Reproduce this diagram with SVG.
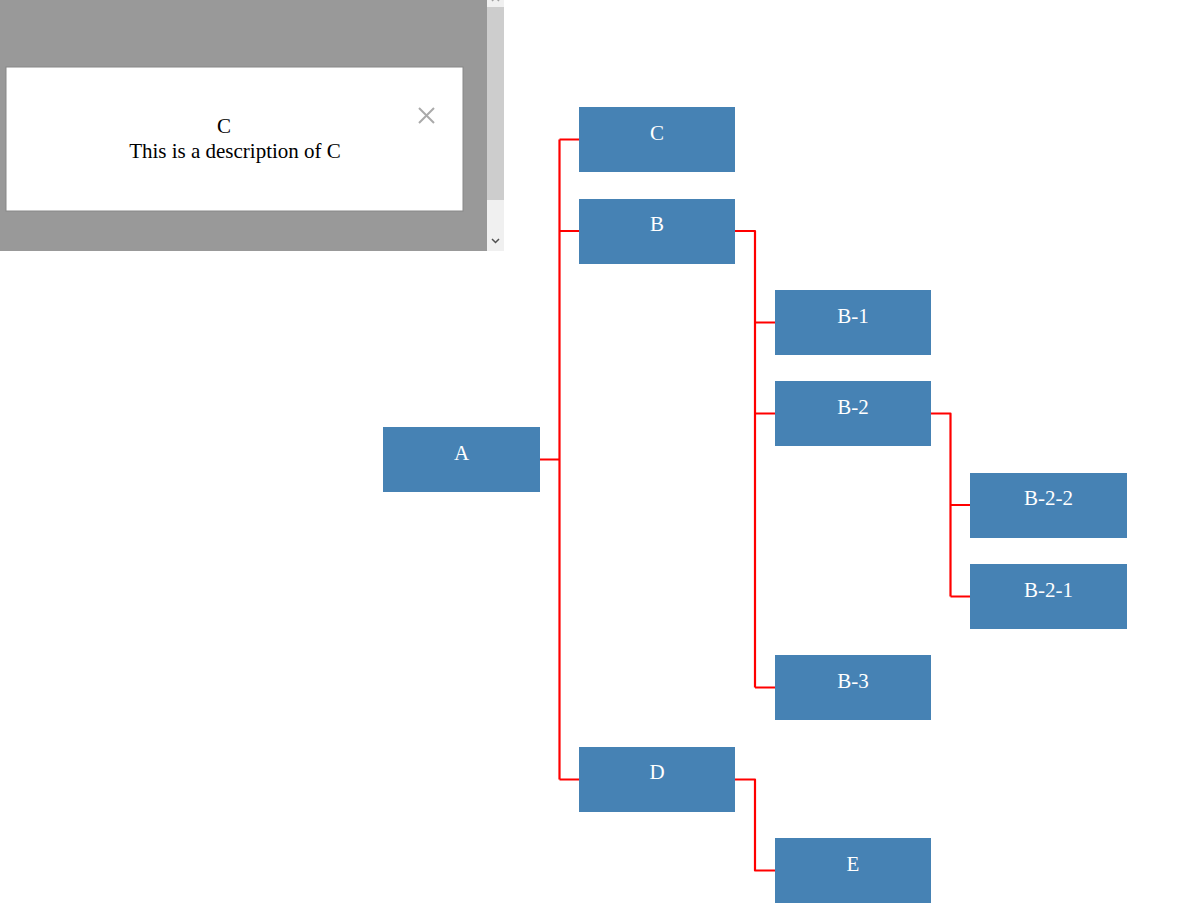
<svg xmlns="http://www.w3.org/2000/svg" width="1183" height="919" viewBox="0 0 1183 919">
<style>
.node rect{fill:#4682b4}
.node text{fill:#fff;font-family:"Liberation Serif",serif;font-size:21px;text-anchor:middle}
.link{fill:none;stroke:#ff0000;stroke-width:2.2;stroke-linejoin:round}
.pop{font-family:"Liberation Serif",serif;font-size:21px;fill:#000;text-anchor:middle}
</style>
<rect width="1183" height="919" fill="#fff"/>
<g id="connectors">
<path class="link" d="M540,459.5 H559.5 M559.5,139.5 V779.5 M559.5,139.5 H579 M559.5,231 H579 M559.5,779.5 H579"/>
<path class="link" d="M735,231 H755 V687.5 M755,322.5 H775 M755,413.5 H775 M755,687.5 H775"/>
<path class="link" d="M931,413.5 H950.5 V596.5 M950.5,505 H970 M950.5,596.5 H970"/>
<path class="link" d="M735,779.5 H755 V870.5 H775"/>
</g>
<g id="node-A" class="node"><rect x="383" y="427" width="157" height="65"/><text x="461.5" y="460">A</text></g>
<g id="node-C" class="node"><rect x="579" y="107" width="156" height="65"/><text x="657" y="140">C</text></g>
<g id="node-B" class="node"><rect x="579" y="199" width="156" height="65"/><text x="657" y="231">B</text></g>
<g id="node-B-1" class="node"><rect x="775" y="290" width="156" height="65"/><text x="853" y="323">B-1</text></g>
<g id="node-B-2" class="node"><rect x="775" y="381" width="156" height="65"/><text x="853" y="414">B-2</text></g>
<g id="node-B-2-2" class="node"><rect x="970" y="473" width="157" height="65"/><text x="1048.5" y="505">B-2-2</text></g>
<g id="node-B-2-1" class="node"><rect x="970" y="564" width="157" height="65"/><text x="1048.5" y="597">B-2-1</text></g>
<g id="node-B-3" class="node"><rect x="775" y="655" width="156" height="65"/><text x="853" y="688">B-3</text></g>
<g id="node-D" class="node"><rect x="579" y="747" width="156" height="65"/><text x="657" y="779">D</text></g>
<g id="node-E" class="node"><rect x="775" y="838" width="156" height="65"/><text x="853" y="871">E</text></g>
<g id="popup">
<rect x="0" y="0" width="487" height="251" fill="#999999"/>
<rect x="487" y="0" width="17" height="251" fill="#f0f0f0"/>
<rect x="487" y="7" width="17" height="193" fill="#cdcdcd"/>
<path d="M492,239 L495.5,242.5 L499,239" fill="none" stroke="#505050" stroke-width="1.5"/>
<path d="M492,1 L495.5,-2.5 L499,1" fill="none" stroke="#a0a0a0" stroke-width="1.5"/>
<rect x="6" y="67" width="457" height="144" fill="#fff" stroke="#888" stroke-width="1"/>
<text class="pop" x="224" y="133">C</text>
<text class="pop" x="235" y="158">This is a description of C</text>
<path d="M419,108 L434,123 M434,108 L419,123" stroke="#aaaaaa" stroke-width="2"/>
</g>
</svg>
